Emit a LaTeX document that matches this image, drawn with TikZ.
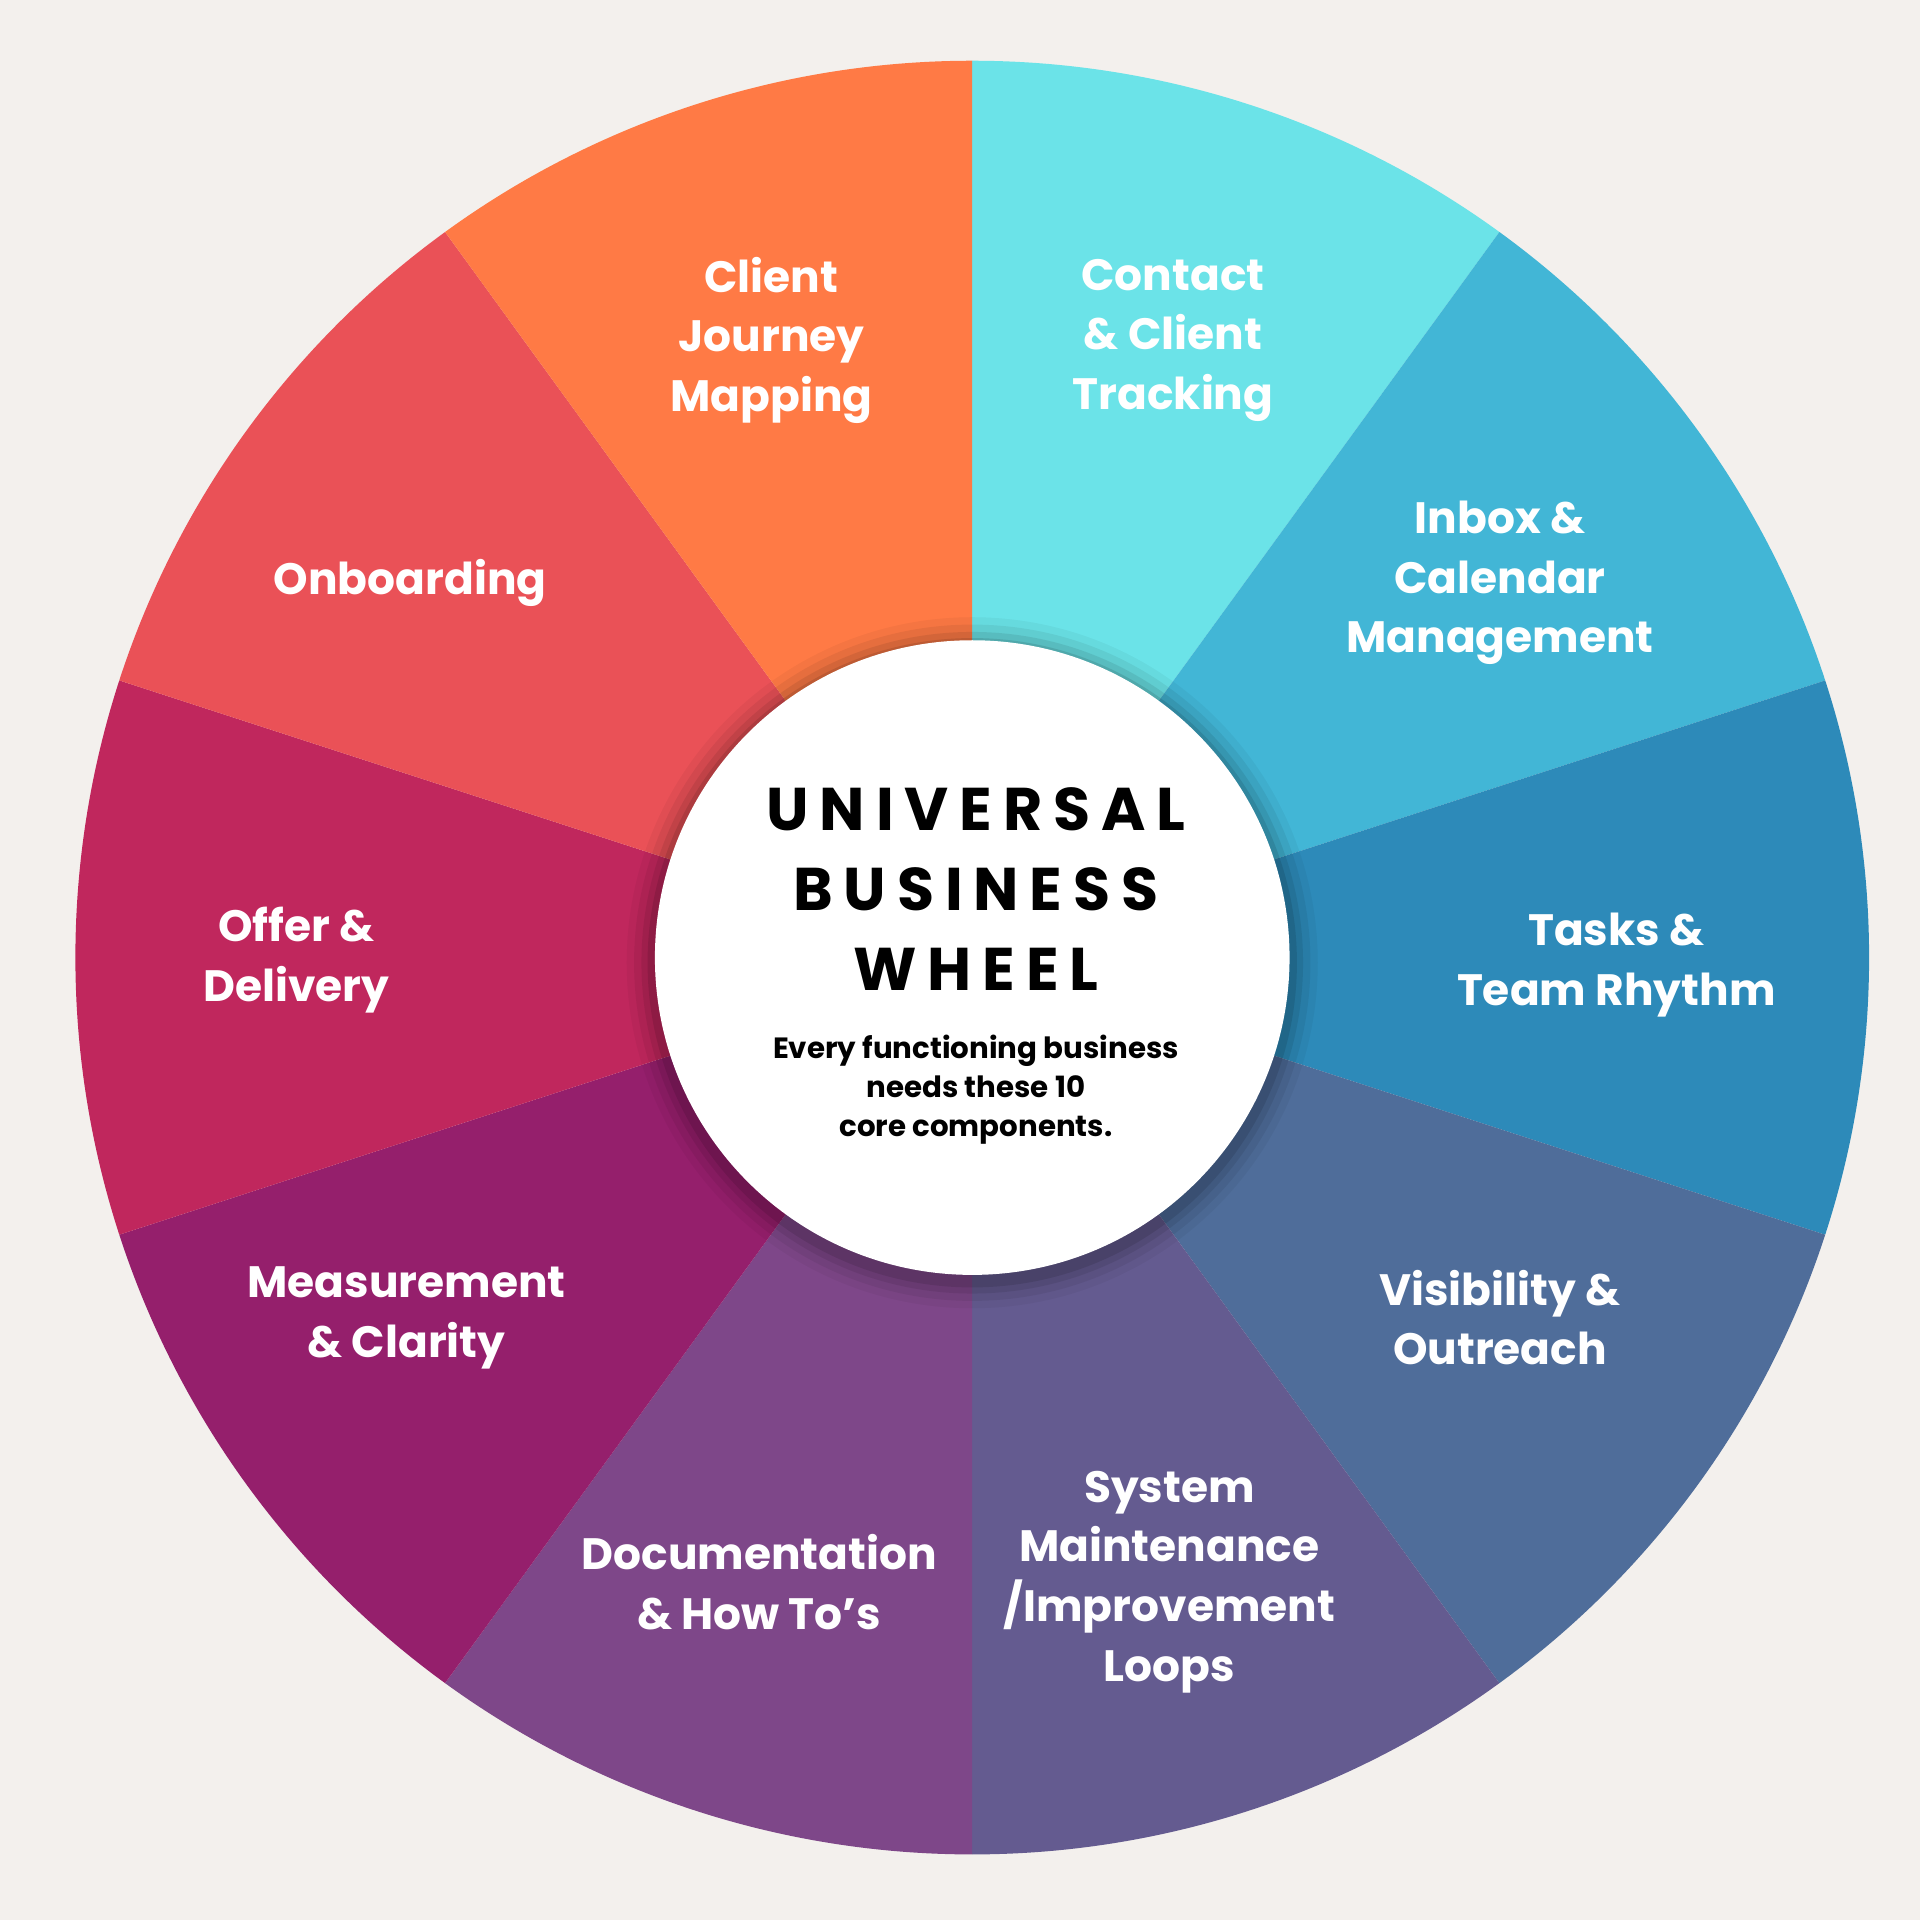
\documentclass[tikz,border=0pt]{standalone}
\usepackage{fontspec}
\setmainfont{Poppins}
\begin{document}
\begin{tikzpicture}[x=0.01cm,y=-0.01cm,
  lab/.style={text=white,font=\fontsize{10.2pt}{13.9pt}\selectfont\bfseries,align=center,inner sep=0pt},
  ttl/.style={font=\fontsize{14pt}{18.5pt}\selectfont\bfseries\addfontfeatures{LetterSpace=18},align=center,inner sep=0pt},
  sub/.style={font=\fontsize{6.8pt}{9.1pt}\selectfont\bfseries,align=center,inner sep=0pt}]
\definecolor{bg}{HTML}{F3F0ED}
\fill[bg] (0,0) rectangle (1568,1568);
\useasboundingbox (0,0) rectangle (1568,1568);
\coordinate (c) at (794,782);
\foreach \a/\col in {90/6BE3E8,54/42B6D6,18/2D8AB9,-18/4F6D9A,-54/645B90,-90/7E4789,-126/951F6C,-162/C0275D,162/EA5157,126/FF7A45}{
  \definecolor{wc}{HTML}{\col}
  \pgfmathsetmacro{\b}{\a-36}
  \fill[wc] (c) -- ++(\a:7.32cm) arc[start angle=\a,end angle=\b,radius=7.32cm] -- cycle;
}
\foreach \r/\o in {2.82/0.04,2.76/0.06,2.70/0.08,2.65/0.1}{
  \fill[black,opacity=\o] ([yshift=-1.2pt]c) circle[radius=\r cm];
}
\fill[white] (c) circle[radius=2.59cm];
\node[circle,minimum size=5.18cm,inner sep=0pt] (hub) at (c) {};
\node[ttl] (title) at (797,726) {UNIVERSAL\\BUSINESS\\WHEEL};
\node[sub] (subt) at (797,890) {Every functioning business\\needs these 10\\core components.};
\node[lab] (l1) at (630,278) {Client\\Journey\\Mapping};
\node[lab] (l2) at (958,278) {Contact\\\& Client\\Tracking};
\node[lab] (l3) at (1225,476) {Inbox \&\\Calendar\\Management};
\node[lab] (l4) at (1320,788) {Tasks \&\\Team Rhythm};
\node[lab] (l5) at (1225,1076) {Visibility \&\\Outreach};
\node[lab] (l6) at (955,1292) {System\\Maintenance\\/Improvement\\Loops};
\node[lab] (l7) at (620,1292) {Documentation\\\& How To’s};
\node[lab] (l8) at (332,1076) {Measurement\\\& Clarity};
\node[lab] (l9) at (242,784) {Offer \&\\Delivery};
\node[lab] (l10) at (335,476) {Onboarding};
\end{tikzpicture}
\end{document}
